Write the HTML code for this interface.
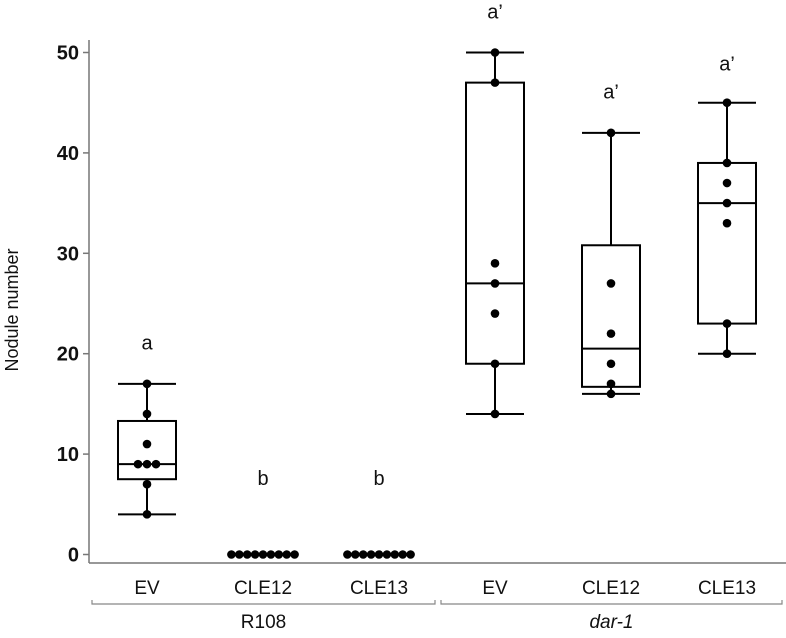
<!DOCTYPE html>
<html><head><meta charset="utf-8"><style>
html,body{margin:0;padding:0;background:#fff}
svg{display:block;font-family:"Liberation Sans",sans-serif}
</style></head><body>
<svg id="chart" width="786" height="638" viewBox="0 0 786 638">
<g id="axes"></g><g id="marks"></g>
</svg>
<script>
const categories = ["EV","CLE12","CLE13","EV","CLE12","CLE13"];
const groups = ["R108","dar-1"];
const whiskerLow = [4,0,0,14,16,20];
const whiskerHigh = [17,0,0,50,42,45];
const q1 = [7.5,0,0,19,16.7,23];
const q3 = [13.3,0,0,47,30.8,39];
const medians = [9,0,0,27,20.5,35];
const points = [[17,14,11,9,9,9,7,4],[0,0,0,0,0,0,0,0,0],[0,0,0,0,0,0,0,0,0],[50,47,29,27,24,19,14],[42,27,22,19,17,16],[45,39,37,35,33,23,20]];
const letters = ["a","b","b","a\u2019","a\u2019","a\u2019"];
const letterValues = [21,7.5,7.5,54,46,48.8];
const yTicks = [0,10,20,30,40,50];

const NS="http://www.w3.org/2000/svg";
const y = v => 554.5 - v*10.04;
const x = i => 147 + i*116;
function mk(tag, attrs, parent){const e=document.createElementNS(NS,tag);for(const k in attrs)e.setAttribute(k,attrs[k]);parent.appendChild(e);return e;}
const axes=document.getElementById('axes'), marks=document.getElementById('marks');
let e;
e=mk('line',{x1:89,y1:40,x2:89,y2:563,stroke:'#777','stroke-width':1.5},axes);


e=mk('line',{x1:89,y1:563,x2:786,y2:563,stroke:'#777','stroke-width':1.5},axes);


yTicks.forEach(t=>{
  e=mk('line',{x1:83,y1:y(t),x2:89,y2:y(t),stroke:'#777','stroke-width':1.5},axes);
  
  
  e=mk('text',{x:79,y:y(t)+7,'text-anchor':'end','font-size':20,'font-weight':'bold',fill:'#111'},axes);
  e.textContent=t;
  
  
});
e=mk('text',{x:0,y:0,transform:'translate(18,310) rotate(-90)','text-anchor':'middle','font-size':18,fill:'#111'},axes);
e.textContent='Nodule number';


categories.forEach((c,i)=>{
  e=mk('text',{x:x(i),y:594,'text-anchor':'middle','font-size':19,fill:'#111'},axes);
  e.textContent=c;
  
  
});
[[92,435],[441,782]].forEach((r,g)=>{
  e=mk('path',{d:`M${r[0]},600 V604 H${r[1]} V600`,fill:'none',stroke:'#888','stroke-width':1.2},axes);
  
  
  e=mk('text',{x:(r[0]+r[1])/2,y:628,'text-anchor':'middle','font-size':19,fill:'#111','font-style':g?'italic':'normal'},axes);
  e.textContent=groups[g];
  
  
});
const hw=29;
categories.forEach((c,i)=>{
  const cx=x(i);
  if(whiskerHigh[i]>whiskerLow[i]){
    e=mk('line',{x1:cx,y1:y(whiskerLow[i]),x2:cx,y2:y(whiskerHigh[i]),stroke:'#000','stroke-width':2},marks);
    
    
    [whiskerLow[i],whiskerHigh[i]].forEach(w=>{
      e=mk('line',{x1:cx-hw,y1:y(w),x2:cx+hw,y2:y(w),stroke:'#000','stroke-width':2},marks);
      
      
    });
    e=mk('rect',{x:cx-hw,y:y(q3[i]),width:2*hw,height:y(q1[i])-y(q3[i]),fill:'#fff',stroke:'#000','stroke-width':2},marks);
    
    
    e=mk('line',{x1:cx-hw,y1:y(medians[i]),x2:cx+hw,y2:y(medians[i]),stroke:'#000','stroke-width':2},marks);
    
    
  }
  const counts={};
  points[i].forEach(v=>counts[v]=(counts[v]||0)+1);
  const seen={};
  points[i].forEach(v=>{
    const n=counts[v], k=(seen[v]=(seen[v]||0)+1)-1;
    const sp = n>4?7.9:9;
    const px=cx+(k-(n-1)/2)*sp;
    e=mk('circle',{cx:px,cy:y(v),r:4.3,fill:'#000'},marks);
    
    
  });
  e=mk('text',{x:cx,y:y(letterValues[i])+6,'text-anchor':'middle','font-size':20,fill:'#111'},marks);
  e.textContent=letters[i];
  
  
});
</script>
</body></html>
